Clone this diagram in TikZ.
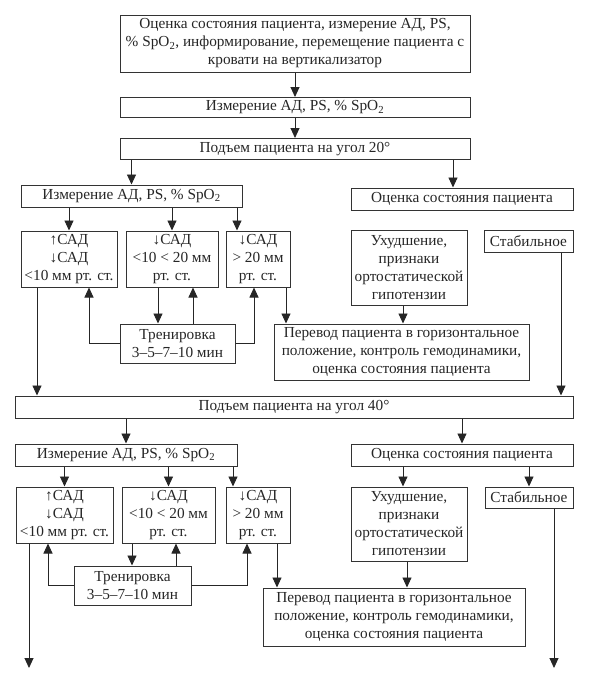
\documentclass[tikz,border=0pt]{standalone}
\usepackage{fontspec}
\setmainfont{Liberation Serif}
\usetikzlibrary{arrows.meta}
\tikzset{
  box/.style={draw=black!80, line width=1pt, inner sep=0pt, align=center, text=black!85,
    font=\fontsize{15.3}{18}\selectfont},
  arr/.style={draw=black!85, line width=0.9pt, -{Triangle[length=10pt,width=9pt]}},
  ln/.style={draw=black!85, line width=0.9pt}
}
\begin{document}
\begin{tikzpicture}[x=1pt,y=-1pt]
\useasboundingbox (0,0) rectangle (591,673);
% x positions
\foreach \xx in {29,37,48,89,132,158,176,193,233,237,247,254,277,286,403,407,453,527,554,561}
  {\coordinate (X\xx) at (\xx,0);}
\coordinate (endA) at (29,668);
\coordinate (endB) at (554,668);
% top chain
\node[box, minimum width=350, minimum height=57] (b1) at (295,43.5)
  {Оценка состояния пациента, измерение АД, PS,\\ \% SpO\textsubscript{2}, информирование, перемещение пациента с\\ кровати на вертикализатор};
\node[box, minimum width=350, minimum height=20] (b2) at (295,107.5) {Измерение АД, PS, \% SpO\textsubscript{2}};
\node[box, minimum width=350, minimum height=21] (b3) at (295,149) {Подъем пациента на угол 20°};
% stage 20
\node[box, minimum width=221, minimum height=22] (m1) at (131.5,196) {Измерение АД, PS, \% SpO\textsubscript{2}};
\node[box, minimum width=96, minimum height=56] (a1) at (69,259) {↑САД\\↓САД\\<10 мм рт. ст.};
\node[box, minimum width=92, minimum height=56] (bb1) at (172,259) {↓САД\\<10 < 20 мм\\рт. ст.};
\node[box, minimum width=64, minimum height=56] (c1) at (258,259) {↓САД\\> 20 мм\\рт. ст.};
\node[box, minimum width=115, minimum height=39] (t1) at (177.5,343.5) {Тренировка\\3–5–7–10 мин};
\node[box, minimum width=255, minimum height=56] (p1) at (401.5,352) {Перевод пациента в горизонтальное\\положение, контроль гемодинамики,\\оценка состояния пациента};
\node[box, minimum width=222, minimum height=22] (o1) at (462,199) {Оценка состояния пациента};
\node[box, minimum width=116, minimum height=75] (u1) at (409,267.5) {Ухудшение,\\признаки\\ортостатической\\гипотензии};
\node[box, minimum width=89, minimum height=22] (s1) at (528.5,241) {Стабильное};
% stage 40
\node[box, minimum width=558, minimum height=22] (r40) at (294,407) {Подъем пациента на угол 40°};
\node[box, minimum width=222, minimum height=22] (m2) at (126,455) {Измерение АД, PS, \% SpO\textsubscript{2}};
\node[box, minimum width=97, minimum height=56] (a2) at (64.5,515) {↑САД\\↓САД\\<10 мм рт. ст.};
\node[box, minimum width=93, minimum height=56] (bb2) at (168.5,515) {↓САД\\<10 < 20 мм\\рт. ст.};
\node[box, minimum width=64, minimum height=56] (c2) at (258,515) {↓САД\\> 20 мм\\рт. ст.};
\node[box, minimum width=117, minimum height=39] (t2) at (132.5,585.5) {Тренировка\\3–5–7–10 мин};
\node[box, minimum width=262, minimum height=58] (p2) at (394,617) {Перевод пациента в горизонтальное\\положение, контроль гемодинамики,\\оценка состояния пациента};
\node[box, minimum width=222, minimum height=22] (o2) at (462,455) {Оценка состояния пациента};
\node[box, minimum width=116, minimum height=74] (u2) at (409,524) {Ухудшение,\\признаки\\ортостатической\\гипотензии};
\node[box, minimum width=88, minimum height=21] (s2) at (529,497.5) {Стабильное};
% connectors top
\draw[arr] (b1.south) -- (b2.north);
\draw[arr] (b2.south) -- (b3.north);
\draw[arr] (b3.south -| m1.north) -- (m1.north);
\draw[arr] (b3.south -| X453) -- (o1.north -| X453);
% stage 20 connectors
\draw[arr] (m1.south -| a1.north) -- (a1.north);
\draw[arr] (m1.south -| bb1.north) -- (bb1.north);
\draw[arr] (m1.south -| X237) -- (c1.north -| X237);
\draw[arr] (a1.south -| X37) -- (r40.north -| X37);
\draw[arr] (t1.west) -| (a1.south -| X89);
\draw[arr] (bb1.south -| X158) -- (t1.north -| X158);
\draw[arr] (t1.north -| X193) -- (bb1.south -| X193);
\draw[arr] (t1.east) -| (c1.south -| X254);
\draw[arr] (c1.south -| X286) -- (p1.north -| X286);
\draw[arr] (u1.south -| X403) -- (p1.north -| X403);
\draw[arr] (s1.south -| X561) -- (r40.north -| X561);
% stage 40 connectors
\draw[arr] (r40.south -| m2.north) -- (m2.north);
\draw[arr] (r40.south -| o2.north) -- (o2.north);
\draw[arr] (m2.south -| a2.north) -- (a2.north);
\draw[arr] (m2.south -| bb2.north) -- (bb2.north);
\draw[arr] (m2.south -| X233) -- (c2.north -| X233);
\draw[arr] (o2.south -| X403) -- (u2.north -| X403);
\draw[arr] (o2.south -| s2.north) -- (s2.north);
\draw[arr] (a2.south -| X29) -- (endA);
\draw[arr] (t2.west) -| (a2.south -| X48);
\draw[arr] (bb2.south -| X132) -- (t2.north -| X132);
\draw[arr] (t2.north -| X176) -- (bb2.south -| X176);
\draw[arr] (t2.east) -| (c2.south -| X247);
\draw[arr] (c2.south -| X277) -- (p2.north -| X277);
\draw[arr] (u2.south -| X407) -- (p2.north -| X407);
\draw[arr] (s2.south -| X554) -- (endB);
\end{tikzpicture}
\end{document}
